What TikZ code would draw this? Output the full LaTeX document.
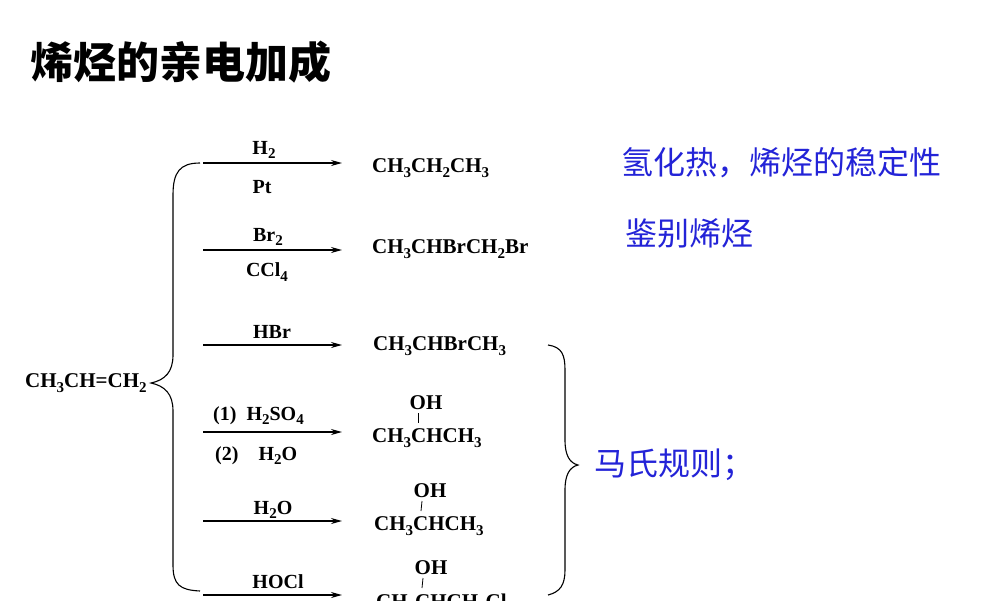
\documentclass[tikz,border=0pt]{standalone}
\usepackage{fontspec}
\usetikzlibrary{arrows.meta}
\setmainfont{Liberation Serif}
\newfontfamily\cjk{Noto Sans CJK SC}
\definecolor{myblue}{RGB}{35,35,215}
\newcommand\chsub[1]{\raisebox{-0.45ex}{\fontsize{15}{15}\selectfont #1}}
\begin{document}
\begin{tikzpicture}[x=1pt,y=-1pt,
  chem/.style={font=\fontsize{21}{24}\selectfont\bfseries, inner sep=0pt},
  lab/.style={font=\fontsize{20}{22}\selectfont\bfseries, inner sep=0pt},
  note/.style={font=\fontsize{32}{36}\cjk, text=myblue, inner sep=0pt, anchor=west},
  rxn/.style={-{Stealth[length=11pt,width=6pt]}, line width=1.3pt},
  brace/.style={line width=1.1pt}]
\useasboundingbox (0,0) rectangle (1000,600);
\node[font=\fontsize{43}{46}\cjk\bfseries, anchor=west, inner sep=0pt] (title) at (30,62) {烯烃的亲电加成};
\node[chem, anchor=west] (start) at (25,383) {CH\chsub{3}CH=CH\chsub{2}};
% left brace
\draw[brace] (200,163) .. controls (180,163) and (173,172) .. (173,195) -- (173,355) .. controls (173,372) and (165,380) .. (151,383) .. controls (165,386) and (173,394) .. (173,411) -- (173,565) .. controls (173,585) and (180,590) .. (200,591);
% arrows
\foreach \n/\y in {a/163,b/250,c/345,d/432,e/521,f/595}{
  \coordinate (\n1) at (203,\y); \coordinate (\n2) at (342,\y);
  \draw[rxn] (\n1) -- (\n2);}
\node[lab] (la1) at (264,150) {H\chsub{2}};
\node[lab] (la2) at (262,187) {Pt};
\node[lab] (lb1) at (268,237) {Br\chsub{2}};
\node[lab] (lb2) at (267,272) {CCl\chsub{4}};
\node[lab] (lc1) at (272,332) {HBr};
\node[lab, anchor=west] (ld1) at (213,416) {(1)\ \ H\chsub{2}SO\chsub{4}};
\node[lab, anchor=west] (ld2) at (215,456) {(2)\ \ \ \ H\chsub{2}O};
\node[lab] (le1) at (273,510) {H\chsub{2}O};
\node[lab] (lf1) at (278,582) {HOCl};
% products
\node[chem, anchor=west] (p1) at (372,168) {CH\chsub{3}CH\chsub{2}CH\chsub{3}};
\node[chem, anchor=west] (p2) at (372,249) {CH\chsub{3}CHBrCH\chsub{2}Br};
\node[chem, anchor=west] (p3) at (373,346) {CH\chsub{3}CHBrCH\chsub{3}};
\node[chem] (oh4) at (426,403) {OH};
\node[chem, anchor=west] (p4) at (372,438) {CH\chsub{3}CHCH\chsub{3}};
\draw[line width=0.8pt] (418,413) -- (418,423);
\node[chem] (oh5) at (430,491) {OH};
\node[chem, anchor=west] (p5) at (374,526) {CH\chsub{3}CHCH\chsub{3}};
\draw[line width=0.8pt] (422,501) -- (421,511);
\node[chem] (oh6) at (431,568) {OH};
\node[chem, anchor=west] (p6) at (376,603) {CH\chsub{3}CHCH\chsub{2}Cl};
\draw[line width=0.8pt] (423,578) -- (422,588);
% right brace
\draw[brace] (548,345) .. controls (562,347) and (565,355) .. (565,370) -- (565,440) .. controls (565,456) and (570,463) .. (578,465) .. controls (570,467) and (565,474) .. (565,490) -- (565,570) .. controls (565,585) and (560,592) .. (548,595);
% notes
\node[note] (n1) at (621,163) {氢化热，烯烃的稳定性};
\node[note] (n2) at (625,233) {鉴别烯烃};
\node[note] (n3) at (594,465) {马氏规则；};
\end{tikzpicture}
\end{document}
